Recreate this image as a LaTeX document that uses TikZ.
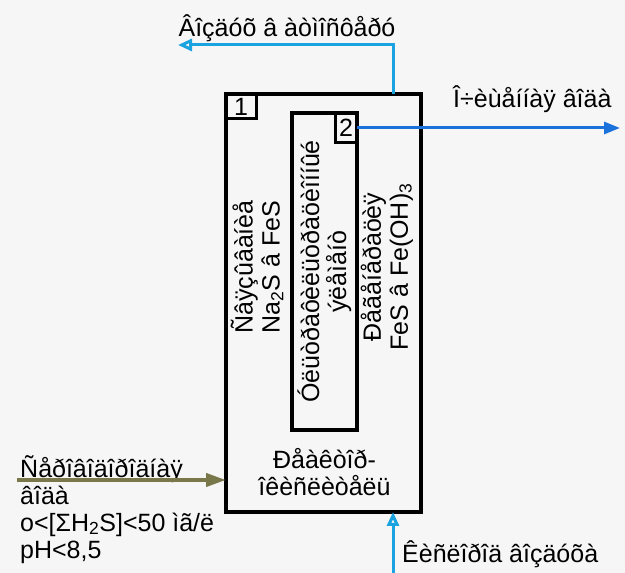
\documentclass[tikz,border=0pt]{standalone}
\usepackage{fontspec}
\setmainfont{Liberation Sans}
\usetikzlibrary{arrows.meta, positioning}
\definecolor{airblue}{HTML}{1BA3E0}
\definecolor{waterblue}{HTML}{1A72DA}
\definecolor{rawolive}{HTML}{78784A}
\definecolor{paper}{HTML}{F6F6F6}

\begin{document}
\begin{tikzpicture}[x=1pt, y=1pt,
    vessel/.style={draw, line width=#1, inner sep=0pt, outer sep=0pt},
    numbox/.style={draw, line width=3pt, inner sep=0pt, outer sep=0pt, font=\fontsize{25}{25}\selectfont},
    txt/.style={inner sep=0pt, font=\fontsize{25}{27}\selectfont},
    airarrow/.style={-{Triangle[open, length=14pt, width=12pt]}, line width=3pt, color=airblue},
    waterarrow/.style={-{Triangle[length=16pt, width=12pt]}, line width=3pt, color=waterblue},
    rawarrow/.style={-{Triangle[length=20pt, width=13pt]}, line width=4pt, color=rawolive}
]
\useasboundingbox[fill=paper] (0, 0) rectangle (625, 573);

\node[vessel=4.5pt, minimum width=195, minimum height=418] (reactor) at (323.5, 270) {};
\node[vessel=4pt, minimum width=65, minimum height=317] (filter) at (324.5, 301.5) {};
\node[numbox, anchor=north west, minimum width=30, minimum height=25] (num1) at (reactor.north west) {1};
\node[numbox, anchor=north east, minimum width=22, minimum height=30] (num2) at (filter.north east) {2};

\node[txt, rotate=90, align=center] (bind) at (257, 306) {Ñâÿçûâàíèå\\Na\textsubscript{2}S â FeS};
\node[txt, rotate=90, align=center] (membrane) at (filter.center) {Óëüòðàôèëüòðàöèîííûé\\ýëåìåíò};
\node[txt, rotate=90, align=center] (regen) at (387, 306) {Ðåãåíåðàöèÿ\\FeS â Fe(OH)\textsubscript{3}};
\node[txt, align=center, below=18pt of filter] (reacttext) {Ðåàêòîð-\\îêèñëèòåëü};

\coordinate (airout) at (178, 528);
\coordinate (airin) at (393, 0);
\coordinate (cleanout) at (620, 445);
\coordinate (rawin) at (17, 93);

\node[txt] (airlabel) at (287, 545) {Âîçäóõ â àòìîñôåðó};
\node[txt, anchor=west] (cleanlabel) at (453, 474) {Î÷èùåííàÿ âîäà};
\node[txt, anchor=west] (o2label) at (402, 19) {Êèñëîðîä âîçäóõà};
\node[txt, anchor=north west, align=left] (rawlabel) at (20, 118) {Ñåðîâîäîðîäíàÿ\\âîäà\\o<[ΣH\textsubscript{2}S]<50 ìã/ë\\pH<8,5};

\draw[airarrow] (reactor.north -| airin) |- (airout);
\draw[airarrow] (airin) -- (reactor.south -| airin);
\draw[waterarrow] (num2.east) -- (cleanout);
\draw[rawarrow] (rawin) -- (rawin -| reactor.west);
\end{tikzpicture}
\end{document}
